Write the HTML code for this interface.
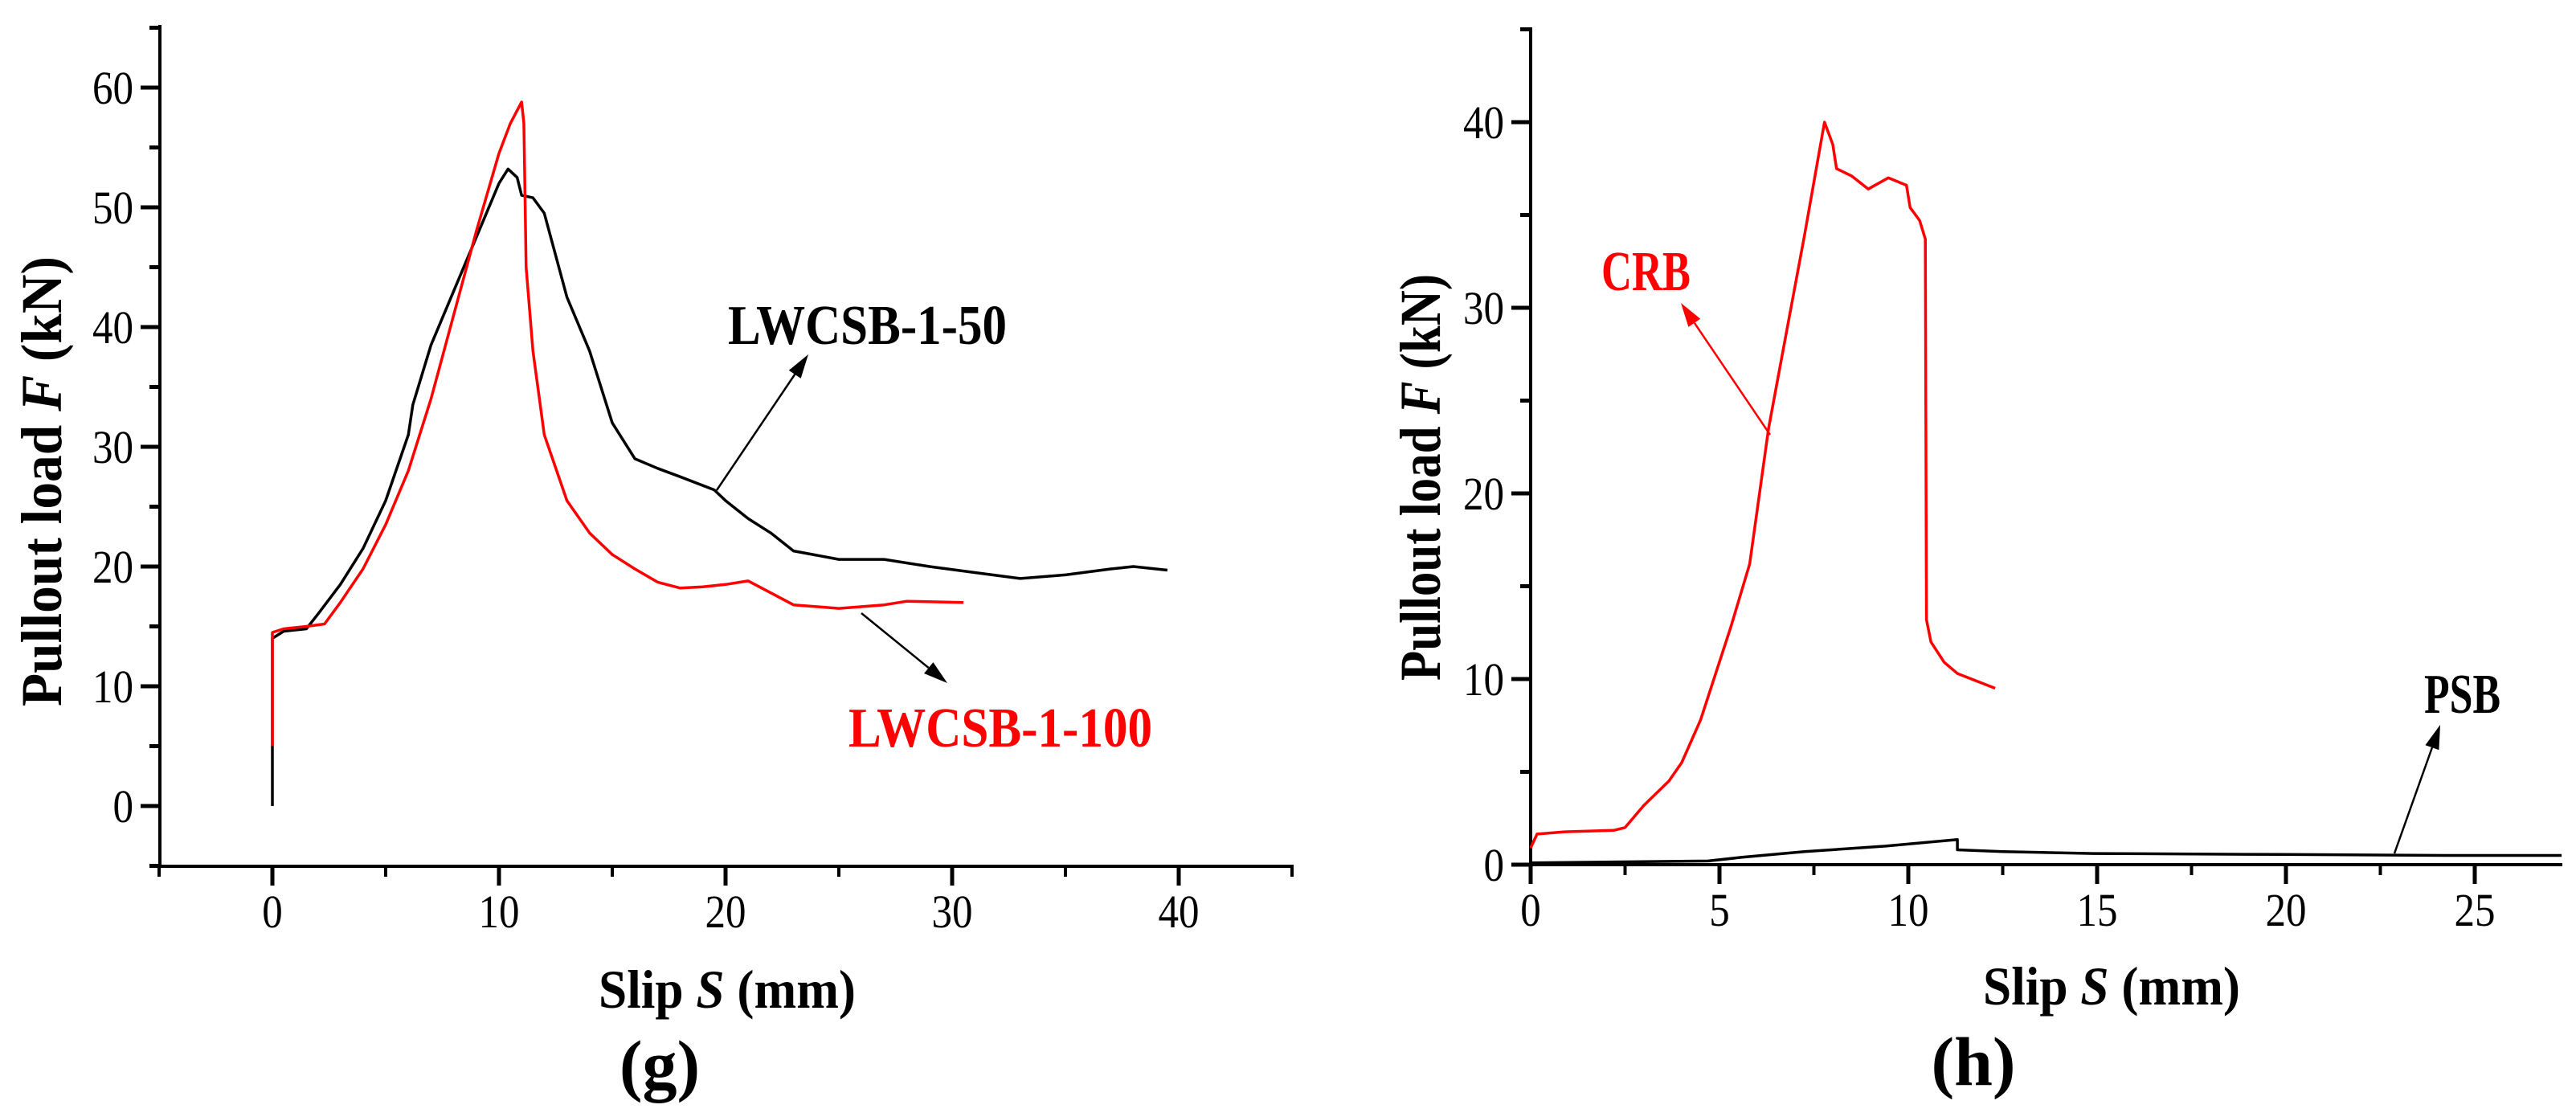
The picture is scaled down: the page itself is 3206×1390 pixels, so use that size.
<!DOCTYPE html>
<html><head><meta charset="utf-8"><style>
html,body{margin:0;padding:0;background:#fff;}
svg{display:block;}
text{font-family:"Liberation Serif",serif;}
</style></head><body>
<svg id="fig" width="3206" height="1390" viewBox="0 0 3206 1390" xmlns="http://www.w3.org/2000/svg">
<rect width="3206" height="1390" fill="#fff"/>
<g id="g1"></g>
<g id="g2"></g>
</svg>
<script>
// Chart (g) data
const gXTicks = [0, 10, 20, 30, 40];
const gYTicks = [0, 10, 20, 30, 40, 50, 60];
const gBlackX = [0,0,0.5,1.5,2,3,4,5,6,6.2,7,8,9,10,10.4,10.8,11,11.5,12,12.5,13,14,15,16,17,18,19.5,20,21,22,23,25,27,29,31,33,35,37,38,39.5];
const gBlackY = [0,14,14.6,14.8,16,18.5,21.5,25.5,31,33.5,38.5,43,47.5,52,53.2,52.5,51,50.8,49.5,46,42.5,38,32,29,28.2,27.5,26.4,25.5,24,22.8,21.3,20.6,20.6,20,19.5,19,19.3,19.8,20,19.7];
const gRedX = [0,0,0.5,1.5,2.3,3,4,5,6,7,8,9,10,10.5,11,11.1,11.2,11.5,12,13,14,15,16,17,18,19,20,21,22,23,25,27,28,30.5];
const gRedY = [5,14.5,14.8,15,15.2,17,19.8,23.5,28,34,41,48,54.5,57,58.8,57,45,38,31,25.5,22.8,21,19.8,18.7,18.2,18.3,18.5,18.8,17.8,16.8,16.5,16.8,17.1,17];
// Chart (h) data
const hXTicks = [0, 5, 10, 15, 20, 25];
const hYTicks = [0, 10, 20, 30, 40];
const hCrbX = [0,0.17,0.9,2.2,2.5,3,3.66,4,4.5,4.9,5.3,5.8,6.3,6.83,7.25,7.78,8.0,8.1,8.5,8.94,9.47,9.95,10.05,10.3,10.45,10.48,10.6,10.95,11.3,12.3];
const hCrbY = [0.9,1.65,1.77,1.85,2.0,3.2,4.5,5.5,7.8,10.3,12.8,16.2,23.5,29.3,33.9,40,38.8,37.5,37.1,36.4,37,36.6,35.4,34.7,33.7,13.2,12,10.9,10.3,9.5];
const hPsbX = [0,4.7,5.6,7.25,9.4,11.3,11.3,12.5,14.9,19.9,24.2,27.3];
const hPsbY = [0.1,0.2,0.4,0.7,1.0,1.35,0.8,0.7,0.6,0.55,0.5,0.5];

const NS = "http://www.w3.org/2000/svg";
function mk(parent, tag, attrs, txt){
  const e = document.createElementNS(NS, tag);
  for (const k in attrs) e.setAttribute(k, attrs[k]);
  if (txt !== undefined) e.textContent = txt;
  parent.appendChild(e);
  return e;
}

function axes(g, o){
  const line = mk(g,'path',{d:`M${o.x0} ${o.top-2}V${o.base+2}M${o.x0-12} ${o.base}H${o.xEnd}`,stroke:'#000','stroke-width':4,fill:'none'});
  
  
  for (let v=o.xMin; v<=o.xMaxTick+1e-9; v+=o.xMinor){
    const major = Math.abs(v/o.xMajor - Math.round(v/o.xMajor))<1e-6;
    const px = o.sx(v);
    const t = mk(g,'line',{x1:px,y1:o.base,x2:px,y2:o.base+(major?24:13),stroke:'#000','stroke-width':major?5:4});
    
    
  }
  o.xLabels.forEach(v=>{
    const t = mk(g,'text',{x:0,y:0,'font-size':58,'text-anchor':'middle',transform:`translate(${o.sx(v)},${o.base+76}) scale(0.88,1)`},String(v));
    
    
  });
  for (let v=o.yMin; v<=o.yMax+1e-9; v+=o.yMinor){
    const major = Math.abs(v/o.yMajor - Math.round(v/o.yMajor))<1e-6;
    const py = o.sy(v);
    const t = mk(g,'line',{x1:o.x0,y1:py,x2:o.x0-(major?24:13),y2:py,stroke:'#000','stroke-width':5});
    
    
  }
  o.yLabels.forEach(v=>{
    const t = mk(g,'text',{x:0,y:0,'font-size':58,'text-anchor':'end',transform:`translate(${o.x0-33},${o.sy(v)+20}) scale(0.88,1)`},String(v));
    
    
  });
  const xt = mk(g,'text',{x:o.xtx,y:o.xty,'font-size':68,'font-weight':'bold','text-anchor':'middle',textLength:320,lengthAdjust:'spacingAndGlyphs'});
  
  
  mk(xt,'tspan',{},'Slip ');
  mk(xt,'tspan',{'font-style':'italic'},'S');
  mk(xt,'tspan',{},' (mm)');
  const yt = mk(g,'text',{x:0,y:0,'font-size':72,'font-weight':'bold','text-anchor':'middle',textLength:o.ytl,lengthAdjust:'spacingAndGlyphs',transform:`translate(${o.ytx},${o.yty}) rotate(-90)`});
  
  
  mk(yt,'tspan',{},'Pullout load ');
  mk(yt,'tspan',{'font-style':'italic'},'F');
  mk(yt,'tspan',{},' (kN)');
  const pl = mk(g,'text',{x:o.plx,y:o.ply,'font-size':86,'font-weight':'bold','text-anchor':'middle'},o.panel);
  
  
}
function series(g, xs, ys, sx, sy, color, name){
  let d = '';
  xs.forEach((x,i)=>{ d += (i?'L':'M') + sx(x).toFixed(1) + ' ' + sy(ys[i]).toFixed(1); });
  const p = mk(g,'path',{d:d,stroke:color,'stroke-width':3.5,fill:'none','stroke-linejoin':'round'});
  
  
}
function arrow(g, x1,y1,x2,y2,color,name){
  const ang = Math.atan2(y2-y1,x2-x1), L=30, W=9;
  const bx = x2-L*Math.cos(ang), by = y2-L*Math.sin(ang);
  const ln = mk(g,'line',{x1:x1,y1:y1,x2:bx,y2:by,stroke:color,'stroke-width':2.5});
  
  
  const px=-Math.sin(ang)*W, py=Math.cos(ang)*W;
  const h = mk(g,'polygon',{points:`${x2},${y2} ${bx+px},${by+py} ${bx-px},${by-py}`,fill:color});
  
  
}
function label(g,x,y,txt,color,tl,name){
  const t = mk(g,'text',{x:x,y:y,'font-size':70,'font-weight':'bold',fill:color,textLength:tl,lengthAdjust:'spacingAndGlyphs'},txt);
  
  
}

// chart g
(function(){
  const g = document.getElementById('g1');
  const sx = v => 339 + v*28.2;
  const sy = v => 1003 - v*14.9;
  axes(g,{x0:199,top:33,base:1078,xEnd:1610,sx:sx,sy:sy,xMin:-5,xMaxTick:45,xMinor:5,xMajor:10,xLabels:gXTicks,
    yMin:-5,yMax:65,yMinor:5,yMajor:10,yLabels:gYTicks,xtx:905,xty:1254,ytx:76,yty:599,ytl:560,panel:'(g)',plx:821,ply:1354});
  series(g,gBlackX,gBlackY,sx,sy,'#000','series-lwcsb-1-50');
  series(g,gRedX,gRedY,sx,sy,'#ff0000','series-lwcsb-1-100');
  arrow(g,892,610,1006,441,'#000','arrow-lwcsb-1-50');
  arrow(g,1072,763,1179,850,'#000','arrow-lwcsb-1-100');
  label(g,906,428,'LWCSB-1-50','#000',347,'label-lwcsb-1-50');
  label(g,1056,929,'LWCSB-1-100','#ff0000',378,'label-lwcsb-1-100');
})();
// chart h
(function(){
  const g = document.getElementById('g2');
  const sx = v => 1905 + v*47.0;
  const sy = v => 1076 - v*23.1;
  axes(g,{x0:1905,top:36,base:1076,xEnd:3189,sx:sx,sy:sy,xMin:0,xMaxTick:27.3,xMinor:2.5,xMajor:5,xLabels:hXTicks,
    yMin:0,yMax:45,yMinor:5,yMajor:10,yLabels:hYTicks,xtx:2628,xty:1250,ytx:1792,yty:594,ytl:506,panel:'(h)',plx:2456,ply:1350});
  series(g,hCrbX,hCrbY,sx,sy,'#ff0000','series-crb');
  series(g,hPsbX,hPsbY,sx,sy,'#000','series-psb');
  arrow(g,2203,541,2092,377,'#ff0000','arrow-crb');
  arrow(g,2980,1062,3037,902,'#000','arrow-psb');
  label(g,1993,361,'CRB','#ff0000',111,'label-crb');
  label(g,3017,887,'PSB','#000',95,'label-psb');
})();
</script>
</body></html>
